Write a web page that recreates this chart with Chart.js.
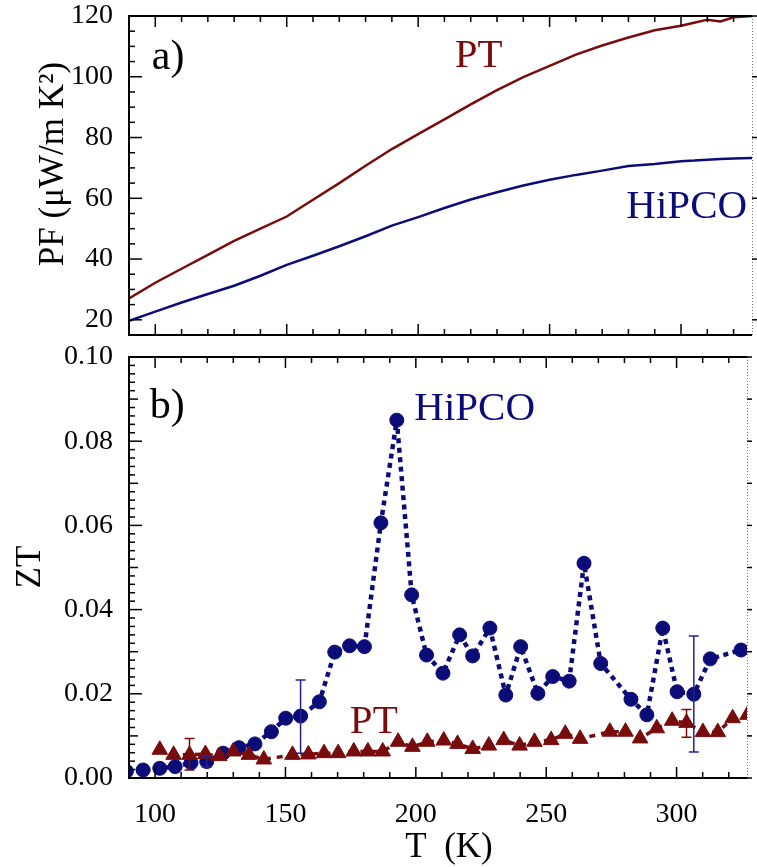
<!DOCTYPE html>
<html>
<head>
<meta charset="utf-8">
<script src="https://cdn.jsdelivr.net/npm/chart.js@4.4.1/dist/chart.umd.min.js"></script>
<style>
  html, body { margin: 0; padding: 0; background: #fff; }
  #wrap { position: relative; width: 757px; height: 867px; }
  canvas { position: absolute; left: 0; }
  #pfChart { top: 0; }
  #ztChart { top: 340px; }
</style>
</head>
<body>
<div id="wrap">
  <canvas id="pfChart" width="757" height="340"></canvas>
  <canvas id="ztChart" width="757" height="527"></canvas>
</div>
<script>
const SERIF = '"Liberation Serif", "DejaVu Serif", serif';
const NAVY = '#0c0c78';
const MAROON = '#780c0c';

// panel a) power factor vs T
const pfTemps  = [90, 100, 110, 120, 130, 140, 150, 160, 170, 180, 190, 200, 210, 220, 230, 240, 250, 260, 270, 280, 290, 300, 305, 310, 315, 320, 327];
const pfPT     = [27, 32.2, 36.8, 41.4, 46, 50, 54, 59.5, 65, 70.7, 76.2, 81.1, 86, 90.9, 95.6, 99.9, 103.6, 107.3, 110.3, 112.9, 115.3, 116.8, 117.8, 118.8, 118.2, 119.6, 120];
const pfHiPCO  = [19.7, 22.7, 25.7, 28.5, 31.2, 34.5, 38.1, 41.1, 44.2, 47.5, 51, 53.8, 56.8, 59.6, 62, 64.2, 66.1, 67.7, 69.1, 70.6, 71.3, 72.2, 72.4, 72.7, 72.9, 73.1, 73.3];
const pfTicks  = [20, 40, 60, 80, 100, 120];

// panel b) ZT vs T
const ztHiPCOTemps = [89, 95.4, 101.8, 107.7, 113.8, 119.8, 126.1, 132.2, 138.3, 144.6, 150.1, 155.8, 163.0, 168.9, 174.6, 180.3, 186.6, 192.7, 198.4, 204.1, 210.4, 216.8, 221.8, 228.4, 234.5, 240.2, 246.8, 252.5, 258.8, 264.5, 270.9, 282.5, 288.6, 294.7, 300.2, 306.6, 312.9, 324.7];
const ztHiPCO      = [0.0016, 0.0019, 0.0023, 0.0027, 0.0036, 0.0039, 0.0059, 0.0072, 0.0081, 0.0110, 0.0142, 0.0147, 0.0181, 0.0299, 0.0314, 0.0312, 0.0606, 0.0850, 0.0435, 0.0292, 0.0249, 0.0340, 0.0290, 0.0356, 0.0197, 0.0312, 0.0201, 0.0241, 0.0230, 0.0510, 0.0272, 0.0187, 0.0150, 0.0356, 0.0205, 0.0199, 0.0283, 0.0304];
const ztPTTemps    = [101.8, 107.1, 113.2, 119.3, 124.6, 130.0, 136.0, 141.7, 152.7, 158.8, 164.8, 170.2, 176.2, 181.6, 187.3, 193.2, 198.7, 204.4, 210.7, 216.0, 221.8, 228.0, 233.7, 239.8, 245.5, 251.9, 257.3, 263.0, 274.4, 280.4, 286.0, 292.4, 298.3, 303.8, 310.1, 315.8, 321.5, 327.2];
const ztPT         = [0.0067, 0.0055, 0.0055, 0.0057, 0.0052, 0.0063, 0.0055, 0.0044, 0.0055, 0.0056, 0.0059, 0.0059, 0.0063, 0.0063, 0.0063, 0.0086, 0.0074, 0.0086, 0.0089, 0.0081, 0.0069, 0.0077, 0.0090, 0.0077, 0.0086, 0.0090, 0.0105, 0.0093, 0.0110, 0.0110, 0.0094, 0.0118, 0.0136, 0.0131, 0.0109, 0.0109, 0.0142, 0.0150];
const hipcoErrT  = [119.8, 155.8, 306.6];
const hipcoErrLo = [0.0027, 0.0059, 0.0062];
const hipcoErrHi = [0.0051, 0.0233, 0.0337];
const ptErrT     = [113.2, 303.8];
const ptErrLo    = [0.0019, 0.0097];
const ptErrHi    = [0.0094, 0.0163];
const ztTicks    = [0, 0.02, 0.04, 0.06, 0.08, 0.10];
const tempTicks  = [100, 150, 200, 250, 300];

const T_MIN = 90, T_MAX = 327;

function pts(xs, ys) { return xs.map((x, i) => ({ x, y: ys[i] })); }
function font(size) { return size + 'px ' + SERIF; }

function stepValues(min, max, step) {
  const out = [];
  for (let i = Math.ceil(min / step - 1e-9); i * step <= max + 1e-9; i++) out.push(i * step);
  return out;
}
function isMultiple(v, step) {
  return step && Math.abs(v / step - Math.round(v / step)) < 1e-6;
}

// frame, inward ticks, error bars and text
const panelPlugin = {
  id: 'panel',
  afterDatasetsDraw(chart, args, opts) {
    const ctx = chart.ctx;
    const { left, right, top, bottom } = chart.chartArea;
    const xs = chart.scales.x, ys = chart.scales.y;
    ctx.save();

    (opts.errorBars || []).forEach(eb => {
      ctx.strokeStyle = eb.color;
      ctx.lineWidth = 1.5;
      eb.t.forEach((t, i) => {
        const px = xs.getPixelForValue(t);
        const y1 = ys.getPixelForValue(eb.lo[i]);
        const y2 = ys.getPixelForValue(eb.hi[i]);
        ctx.beginPath();
        ctx.moveTo(px, y1); ctx.lineTo(px, y2);
        ctx.moveTo(px - 5, y1); ctx.lineTo(px + 5, y1);
        ctx.moveTo(px - 5, y2); ctx.lineTo(px + 5, y2);
        ctx.stroke();
      });
    });

    // right edge: faint dotted line with short outer ticks
    ctx.strokeStyle = '#777';
    ctx.lineWidth = 1;
    ctx.setLineDash([1, 2]);
    ctx.beginPath(); ctx.moveTo(right + 0.5, top); ctx.lineTo(right + 0.5, bottom); ctx.stroke();
    ctx.setLineDash([]);
    ctx.strokeStyle = '#000';
    ctx.lineWidth = 1.5;
    stepValues(ys.min, ys.max, opts.rightStep).forEach(v => {
      const py = ys.getPixelForValue(v);
      ctx.beginPath(); ctx.moveTo(right, py); ctx.lineTo(right + 5, py); ctx.stroke();
    });

    // left, top, bottom edges
    ctx.lineWidth = 2;
    ctx.beginPath();
    ctx.moveTo(right, top); ctx.lineTo(left, top); ctx.lineTo(left, bottom); ctx.lineTo(right, bottom);
    ctx.stroke();

    ctx.lineWidth = 1.5;
    stepValues(xs.min, xs.max, opts.xMinor).forEach(v => {
      const px = xs.getPixelForValue(v);
      const len = isMultiple(v, opts.xMajor) ? 11 : 6;
      ctx.beginPath();
      ctx.moveTo(px, bottom); ctx.lineTo(px, bottom - len);
      ctx.moveTo(px, top); ctx.lineTo(px, top + len);
      ctx.stroke();
    });
    stepValues(ys.min, ys.max, opts.yMinor).forEach(v => {
      const py = ys.getPixelForValue(v);
      let len = 6;
      if (isMultiple(v, opts.yMid)) len = 9;
      if (isMultiple(v, opts.yMajor)) len = 13;
      ctx.beginPath(); ctx.moveTo(left, py); ctx.lineTo(left + len, py); ctx.stroke();
    });

    ctx.textAlign = 'left';
    ctx.textBaseline = 'alphabetic';
    (opts.labels || []).forEach(l => {
      ctx.fillStyle = l.color;
      ctx.font = font(l.size);
      ctx.fillText(l.text, xs.getPixelForValue(l.t), ys.getPixelForValue(l.v));
    });

    (opts.titles || []).forEach(tt => {
      ctx.fillStyle = '#000';
      ctx.font = font(tt.size);
      ctx.textAlign = 'center';
      ctx.save();
      ctx.translate(tt.x, tt.y);
      if (tt.vertical) ctx.rotate(-Math.PI / 2);
      ctx.fillText(tt.text, 0, 0);
      ctx.restore();
    });

    ctx.restore();
  }
};

function fitY(scale) {
  scale.width = 129;
  scale.paddingTop = 0;
  scale.paddingBottom = 0;
}

const tickFont = { family: SERIF, size: 28 };

new Chart(document.getElementById('pfChart'), {
  type: 'line',
  data: {
    datasets: [
      { data: pts(pfTemps, pfPT), borderColor: MAROON, borderWidth: 2.5, pointRadius: 0, tension: 0 },
      { data: pts(pfTemps, pfHiPCO), borderColor: NAVY, borderWidth: 2.5, pointRadius: 0, tension: 0 }
    ]
  },
  options: {
    responsive: false,
    animation: false,
    layout: { padding: { top: 16, right: 5, bottom: 5, left: 0 } },
    plugins: {
      legend: { display: false },
      tooltip: { enabled: false },
      panel: {
        xMinor: 10, xMajor: 50, yMinor: 5, yMajor: 20, yMid: 0, rightStep: 20,
        labels: [
          { text: 'a)', t: 98.7, v: 102.4, color: '#000', size: 42 },
          { text: 'PT', t: 213.9, v: 103.2, color: MAROON, size: 41 },
          { text: 'HiPCO', t: 279.2, v: 53.6, color: NAVY, size: 41 }
        ],
        titles: [
          { text: 'PF (\u03bcW/m K\u00b2)', x: 63, y: 164, size: 35, vertical: true }
        ]
      }
    },
    scales: {
      x: { type: 'linear', min: T_MIN, max: T_MAX, display: false },
      y: {
        min: 15, max: 120,
        afterBuildTicks: s => { s.ticks = pfTicks.map(v => ({ value: v })); },
        afterFit: fitY,
        grid: { display: false },
        border: { display: false },
        ticks: { font: tickFont, color: '#000', padding: 8 }
      }
    }
  },
  plugins: [panelPlugin]
});

new Chart(document.getElementById('ztChart'), {
  type: 'line',
  data: {
    datasets: [
      {
        data: pts(ztPTTemps, ztPT), borderColor: MAROON, backgroundColor: MAROON,
        borderWidth: 3.5, borderDash: [6, 6], borderJoinStyle: 'round', tension: 0,
        pointStyle: 'triangle', pointRadius: 9, pointBorderWidth: 1, pointBorderColor: MAROON
      },
      {
        data: pts(ztHiPCOTemps, ztHiPCO), borderColor: NAVY, backgroundColor: NAVY,
        borderWidth: 4.5, borderDash: [5, 4.5], borderJoinStyle: 'round', tension: 0,
        pointStyle: 'circle', pointRadius: 7, pointBorderWidth: 1, pointBorderColor: NAVY
      }
    ]
  },
  options: {
    responsive: false,
    animation: false,
    layout: { padding: { top: 17, right: 5, bottom: 0, left: 0 } },
    plugins: {
      legend: { display: false },
      tooltip: { enabled: false },
      panel: {
        xMinor: 10, xMajor: 50, yMinor: 0.002, yMajor: 0.02, yMid: 0.01, rightStep: 0.01,
        errorBars: [
          { t: hipcoErrT, lo: hipcoErrLo, hi: hipcoErrHi, color: '#22228a' },
          { t: ptErrT, lo: ptErrLo, hi: ptErrHi, color: MAROON }
        ],
        labels: [
          { text: 'b)', t: 98, v: 0.0855, color: '#000', size: 42 },
          { text: 'HiPCO', t: 199.4, v: 0.0850, color: NAVY, size: 41 },
          { text: 'PT', t: 174.7, v: 0.0107, color: MAROON, size: 41 }
        ],
        titles: [
          { text: 'ZT', x: 40, y: 227, size: 35, vertical: true },
          { text: 'T  (K)', x: 449, y: 517, size: 35, vertical: false }
        ]
      }
    },
    scales: {
      x: {
        type: 'linear', min: T_MIN, max: T_MAX,
        afterBuildTicks: s => { s.ticks = tempTicks.map(v => ({ value: v })); },
        afterFit: s => { s.height = 89; s.paddingLeft = 0; s.paddingRight = 0; },
        grid: { display: false },
        border: { display: false },
        ticks: { font: tickFont, color: '#000', padding: 12, maxRotation: 0 }
      },
      y: {
        min: 0, max: 0.1,
        afterBuildTicks: s => { s.ticks = ztTicks.map(v => ({ value: v })); },
        afterFit: fitY,
        grid: { display: false },
        border: { display: false },
        ticks: { font: tickFont, color: '#000', padding: 8, callback: v => v.toFixed(2) }
      }
    }
  },
  plugins: [panelPlugin]
});
</script>
</body>
</html>
